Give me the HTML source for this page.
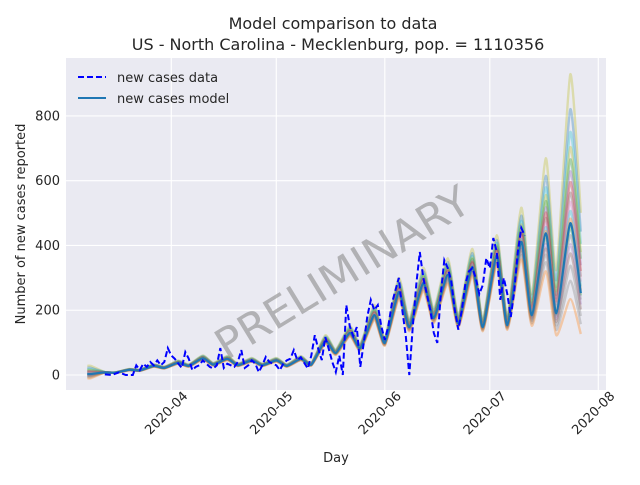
<!DOCTYPE html>
<html><head><meta charset="utf-8"><style>
html,body{margin:0;padding:0;background:#fff;}
svg text{font-family:"DejaVu Sans","Liberation Sans",sans-serif;fill:#262626;}
</style></head><body>
<svg id="chart" width="640" height="480" viewBox="0 0 640 480" xmlns="http://www.w3.org/2000/svg">
<rect x="0" y="0" width="640" height="480" fill="#ffffff"/>
<text x="333" y="29" font-size="16" text-anchor="middle">Model comparison to data</text>
<text x="338" y="50" font-size="16" text-anchor="middle">US - North Carolina - Mecklenburg, pop. = 1110356</text>
<rect x="66" y="58" width="540" height="332" fill="#eaeaf2"/>
<g id="grid"></g>
<g id="ticks"></g>
<text x="0" y="0" font-size="42" text-anchor="middle" textLength="290" lengthAdjust="spacingAndGlyphs" transform="translate(350,285) rotate(-31.5)" style="fill:#8a8a8a;fill-opacity:0.6">PRELIMINARY</text>
<g id="members"></g>
<g id="series"></g>
<g>
<line x1="78" y1="77" x2="106" y2="77" stroke="#0000ff" stroke-width="2" stroke-dasharray="6,3"/>
<text x="117" y="82" font-size="13">new cases data</text>
<line x1="78" y1="98" x2="106" y2="98" stroke="#1f77b4" stroke-width="2"/>
<text x="117" y="103" font-size="13">new cases model</text>
</g>
<text x="336" y="462" font-size="13" text-anchor="middle">Day</text>
<text x="0" y="0" font-size="13" text-anchor="middle" transform="translate(25,224) rotate(-90)">Number of new cases reported</text>
</svg>
<script>
// ---- data (day index 0 = 2020-03-08) ----
const dataDays = [5,7,9,11,13,14,15,16,17,18,19,20,21,22,23,24,25,26,27,28,29,30,31,32,33,34,35,36,37,38,39,40,41,42,43,44,45,46,47,48,49,50,51,52,53,54,55,56,57,58,59,60,61,62,63,64,65,66,67,68,69,70,71,72,73,74,75,76,77,78,79,80,81,82,83,84,85,86,87,88,89,90,91,92,93,94,95,96,97,98,99,100,101,102,103,104,105,106,107,108,109,110,111,112,113,114,115,116,117,118,119,120,121,122,123,124,125];
const dataValues = [2,0,8,0,0,30,15,35,25,40,30,45,30,40,83,60,50,35,22,71,50,15,25,30,45,35,25,20,30,83,22,35,30,25,40,77,22,30,45,35,9,30,56,40,35,30,15,35,45,50,77,46,55,37,20,60,123,80,46,117,80,40,9,60,0,216,150,120,148,25,100,180,232,200,216,150,108,150,220,260,300,200,120,0,150,280,380,300,250,200,130,99,250,355,330,290,200,140,200,280,320,330,300,250,278,361,330,423,380,232,300,250,179,260,380,454,430];
const modelDays = [0,1,5,8,12,15,19,22,26,29,33,36,40,43,47,50,54,57,61,64,68,71,75,78,82,85,89,92,96,99,103,106,110,113,117,120,124,127,131,134,138,141];
const modelValues = [3,3,8,7,16,14,28,22,38,28,52,32,50,30,45,30,45,28,50,32,105,68,130,83,185,99,256,148,284,176,309,160,334,148,370,154,411,185,438,191,469,253];
const memberScales = [1.98,1.75,1.6,1.5,1.42,1.34,1.27,1.2,1.14,1.08,1.03,0.97,0.92,0.86,0.8,0.72,0.62,0.5];
const memberColors = ["#bcbd22","#1f77b4","#17becf","#bcbd22","#2ca02c","#9467bd","#d62728","#8c564b","#e377c2","#17becf","#ff7f0e","#2ca02c","#7f7f7f","#9467bd","#8c564b","#7f7f7f","#7f7f7f","#ff7f0e"];
const yTicks = [0,200,400,600,800];
const xTickLabels = ["2020-04","2020-05","2020-06","2020-07","2020-08"];
const xTickDays = [24,54,85,115,146];

// ---- axes ----
const X0 = 171.3, PXD = 3.5;            // x of day 24 (2020-04-01)
function xs(d){ return X0 + (d - 24) * PXD; }
function ys(v){ return 375 - v * 0.3238; }
const NS = "http://www.w3.org/2000/svg";
function mk(tag, attrs, parent){ const e=document.createElementNS(NS,tag); for(const k in attrs) e.setAttribute(k,attrs[k]); parent.appendChild(e); return e; }
const grid = document.getElementById('grid'), ticks = document.getElementById('ticks');
yTicks.forEach(v=>{
  const g = mk('line',{x1:66,x2:606,y1:ys(v),y2:ys(v),stroke:'#fff','stroke-width':1.1},grid);
  
  
  const t = mk('text',{x:60,y:ys(v)+4.5,'font-size':13,'text-anchor':'end'},ticks);
  t.textContent = v;
  
  
});
xTickDays.forEach((d,i)=>{
  const g = mk('line',{x1:xs(d),x2:xs(d),y1:58,y2:390,stroke:'#fff','stroke-width':1.1},grid);
  
  
  const t = mk('text',{x:0,y:0,'font-size':13,'text-anchor':'middle',transform:`translate(${xs(d)-2},${416}) rotate(-45)`},ticks);
  t.textContent = xTickLabels[i];
  
  
});
function pathOf(days, vals){ return days.map((d,i)=>(i?'L':'M')+xs(d).toFixed(1)+','+ys(vals[i]).toFixed(1)).join(' '); }
function smoothOf(days, vals){
  const P = days.map((d,i)=>[xs(d), ys(vals[i])]);
  let s = 'M'+P[0][0].toFixed(1)+','+P[0][1].toFixed(1);
  const t = 0.1;
  for(let i=0;i<P.length-1;i++){
    const p0=P[Math.max(0,i-1)], p1=P[i], p2=P[i+1], p3=P[Math.min(P.length-1,i+2)];
    const c1=[p1[0]+(p2[0]-p0[0])*t, p1[1]+(p2[1]-p0[1])*t];
    const c2=[p2[0]-(p3[0]-p1[0])*t, p2[1]-(p3[1]-p1[1])*t];
    s += ' C'+c1[0].toFixed(1)+','+c1[1].toFixed(1)+' '+c2[0].toFixed(1)+','+c2[1].toFixed(1)+' '+p2[0].toFixed(1)+','+p2[1].toFixed(1);
  }
  return s;
}
// ensemble members
const members = document.getElementById('members');
memberScales.forEach((s,k)=>{
  const vals = modelValues.map((v,i)=>{ const d=modelDays[i]; const r=Math.min(1,Math.max(0,(d-117)/21)); const w = 0.17 + 0.83*r*r; return v*(1+(s-1)*w) + (d<3 ? (s-1)*25 : 0); });
  const p = mk('path',{d:smoothOf(modelDays,vals),fill:'none',stroke:memberColors[k],'stroke-opacity':0.33,'stroke-width':2.4,'stroke-linejoin':'round'},members);
  
  
});
const series = document.getElementById('series');
const m = mk('path',{d:smoothOf(modelDays,modelValues),fill:'none',stroke:'#1f77b4','stroke-width':2.2,'stroke-linejoin':'round'},series);


const dl = mk('path',{d:pathOf(dataDays,dataValues),fill:'none',stroke:'#0000ff','stroke-width':2,'stroke-dasharray':'6,3'},series);


</script>
</body></html>
